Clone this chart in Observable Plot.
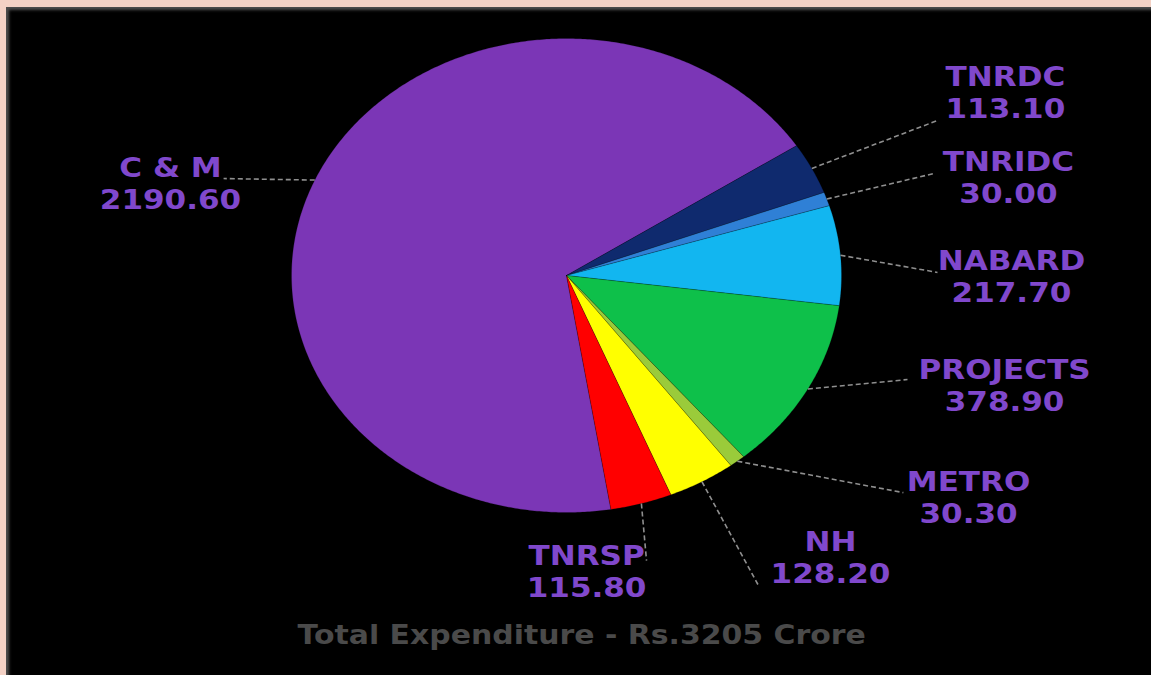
<!DOCTYPE html>
<html>
<head>
<meta charset="utf-8">
<script src="https://cdn.jsdelivr.net/npm/d3@7"></script>
<script src="https://cdn.jsdelivr.net/npm/@observablehq/plot@0.6"></script>
<style>
  html, body { margin: 0; padding: 0; background: #000; overflow: hidden; width: 1151px; height: 675px; }
  #topband { position: absolute; left: 0; top: 0; width: 1151px; height: 7px; background: #f3d1c5; }
  #leftband { position: absolute; left: 0; top: 0; width: 6px; height: 675px; background: #f3d1c5; }
  #edge { position: absolute; left: 6px; top: 7px; width: 1145px; height: 668px;
          box-shadow: inset 3px 3px 3px rgba(85,85,85,0.9); }
  #chart { position: absolute; left: 0; top: 0; }
</style>
</head>
<body>
<div id="topband"></div>
<div id="leftband"></div>
<div id="edge"></div>
<div id="chart"></div>
<script>
// ---- data ----
const names  = ["C & M", "TNRDC", "TNRIDC", "NABARD", "PROJECTS", "METRO", "NH", "TNRSP"];
const values = [2190.60, 113.10, 30.00, 217.70, 378.90, 30.30, 128.20, 115.80];
const colors = ["#7b36b6", "#0f2a6e", "#2f80d6", "#12b6f0", "#0ec04a", "#9acb3a", "#ffff00", "#ff0000"];
const title  = "Total Expenditure - Rs.3205 Crore";

// ---- layout (in pie-radius units: centre = 0,0, radius = 1) ----
const startDeg = 170.7;
const labelX = [-1.44, 1.596, 1.607, 1.618, 1.593, 1.462, 0.96, 0.073];
const labelY = [0.454, 0.835, 0.477, 0.059, -0.401, -0.873, -1.127, -1.186];
const leaderEndX = [-1.247, 1.349, 1.335, 1.349, 1.24, 1.225, 0.698, 0.291];
const leaderEndY = [0.409, 0.654, 0.430, 0.013, -0.439, -0.916, -1.308, -1.203];

const rows = names.map((name, i) => ({name, value: values[i]}));
const arcs = d3.pie().sort(null).value(d => d.value)
  .startAngle(startDeg * Math.PI / 180)
  .endAngle(startDeg * Math.PI / 180 + 2 * Math.PI)(rows);

const wedgePts = [];
arcs.forEach(a => {
  const n = Math.max(2, Math.ceil((a.endAngle - a.startAngle) / (Math.PI / 360)));
  wedgePts.push({name: a.data.name, x: 0, y: 0});
  for (let k = 0; k <= n; k++) {
    const t = a.startAngle + (a.endAngle - a.startAngle) * k / n;
    wedgePts.push({name: a.data.name, x: Math.sin(t), y: Math.cos(t)});
  }
  wedgePts.push({name: a.data.name, x: 0, y: 0});
});

const leaders = arcs.map((a, i) => {
  const m = (a.startAngle + a.endAngle) / 2;
  return {x1: Math.sin(m), y1: Math.cos(m), x2: leaderEndX[i], y2: leaderEndY[i]};
});

const labels = rows.map((r, i) => ({name: r.name, val: r.value.toFixed(2), x: labelX[i], y: labelY[i]}));

const chart = Plot.plot({
  width: 1151,
  height: 675,
  margin: 0,
  x: {domain: [-1, 1], range: [291, 841], axis: null},
  y: {domain: [-1, 1], range: [512, 38], axis: null},
  color: {domain: names, range: colors},
  style: {background: "transparent", fontFamily: "'DejaVu Sans', Verdana, sans-serif"},
  marks: [
    Plot.line(wedgePts, {x: "x", y: "y", z: "name", fill: "name", stroke: "#000", strokeOpacity: 0.25, strokeWidth: 0.8, curve: "linear"}),
    Plot.link(leaders, {x1: "x1", y1: "y1", x2: "x2", y2: "y2", stroke: "#8f8f8f", strokeWidth: 1.6, strokeDasharray: "5,3"}),
    Plot.text(labels, {x: "x", y: "y", text: "name", fill: "#8048cc", fontSize: 27, fontWeight: "bold"}),
    Plot.text(labels, {x: "x", y: "y", dy: 32, text: "val", fill: "#8048cc", fontSize: 27, fontWeight: "bold"}),
    Plot.text([title], {x: () => 0.055, y: () => -1.519, text: d => d, fill: "#4a4a4a", fontSize: 26, fontWeight: "bold"})
  ]
});
document.getElementById("chart").appendChild(chart);

// the reference's lettering is horizontally stretched: widen glyphs to match
chart.querySelectorAll("text").forEach(t => {
  const len = t.getComputedTextLength();
  if (len > 0) {
    t.setAttribute("textLength", (len * 1.15).toFixed(1));
    t.setAttribute("lengthAdjust", "spacingAndGlyphs");
  }
});
</script>
</body>
</html>
